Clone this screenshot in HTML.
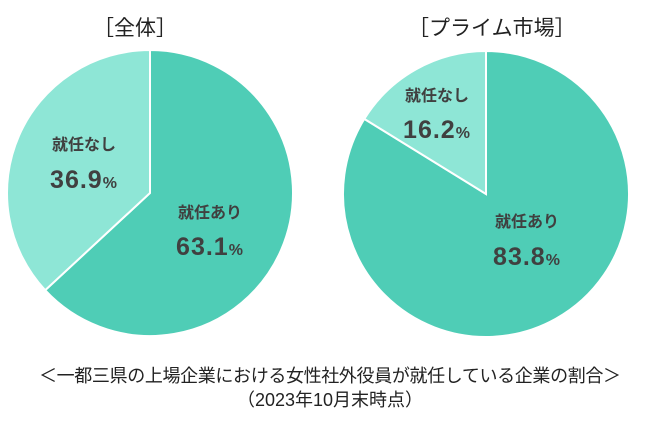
<!DOCTYPE html>
<html><head><meta charset="utf-8"><style>
body{margin:0;background:#fff;width:650px;height:424px;overflow:hidden;font-family:"Liberation Sans","Noto Sans CJK JP",sans-serif;}
svg{display:block}
</style></head><body>
<svg width="650" height="424">
<text x="93" y="35" font-size="21" fill="#222" font-family="Liberation Sans, Noto Sans CJK JP, sans-serif">［全体］</text>
<text x="408" y="35" font-size="21" fill="#222" font-family="Liberation Sans, Noto Sans CJK JP, sans-serif">［プライム市場］</text>
<g id="pies"></g>
<text x="330" y="382" text-anchor="middle" font-size="18" fill="#222" textLength="582" font-family="Liberation Sans, Noto Sans CJK JP, sans-serif">＜一都三県の上場企業における女性社外役員が就任している企業の割合＞</text>
<text x="330" y="406" text-anchor="middle" font-size="18" fill="#222" font-family="Liberation Sans, Noto Sans CJK JP, sans-serif">（2023年10月末時点）</text>
</svg>
<script>
const pieNames=["all","prime"];
const categories=["就任あり","就任なし"];
const valuesAll=[63.1,36.9];
const valuesPrime=[83.8,16.2];
const series=[valuesAll,valuesPrime];
const centers=[[150,193],[486,194]];
const R=143;
const colors=["#4fcdb6","#8ee6d6"];
const labelPos=[[[210,218,255],[84,150,188]],[[527,227,265],[437,101,138]]];
const ns="http://www.w3.org/2000/svg";
const g=document.getElementById("pies");
function pt(c,frac){const a=frac*2*Math.PI-Math.PI/2;return [c[0]+R*Math.cos(a),c[1]+R*Math.sin(a)];}
series.forEach((vals,pi)=>{
  const c=centers[pi];const tot=vals.reduce((a,b)=>a+b,0);let acc=0;
  vals.forEach((v,i)=>{
    const s=pt(c,acc/tot),e=pt(c,(acc+v)/tot);const large=v/tot>0.5?1:0;
    const p=document.createElementNS(ns,"path");
    p.setAttribute("d",`M${c[0]},${c[1]}L${s[0]},${s[1]}A${R},${R} 0 ${large} 1 ${e[0]},${e[1]}Z`);
    p.setAttribute("fill",colors[i]);p.setAttribute("stroke","#fff");p.setAttribute("stroke-width","2");
    
    
    g.appendChild(p);acc+=v;
  });
  vals.forEach((v,i)=>{
    const lp=labelPos[pi][i];
    const t=document.createElementNS(ns,"text");
    t.setAttribute("x",lp[0]);t.setAttribute("y",lp[1]);t.setAttribute("text-anchor","middle");
    t.setAttribute("font-size","16");t.setAttribute("font-weight","bold");t.setAttribute("fill","#404040");
    t.textContent=categories[i];
    
    
    g.appendChild(t);
    const t2=document.createElementNS(ns,"text");
    t2.setAttribute("x",lp[0]);t2.setAttribute("y",lp[2]);t2.setAttribute("text-anchor","middle");
    t2.setAttribute("font-weight","bold");t2.setAttribute("fill","#404040");t2.setAttribute("letter-spacing","1");
    t2.innerHTML='<tspan font-size="25">'+v.toFixed(1)+'</tspan><tspan font-size="16">%</tspan>';
    
    
    g.appendChild(t2);
  });
});
</script>
</body></html>
